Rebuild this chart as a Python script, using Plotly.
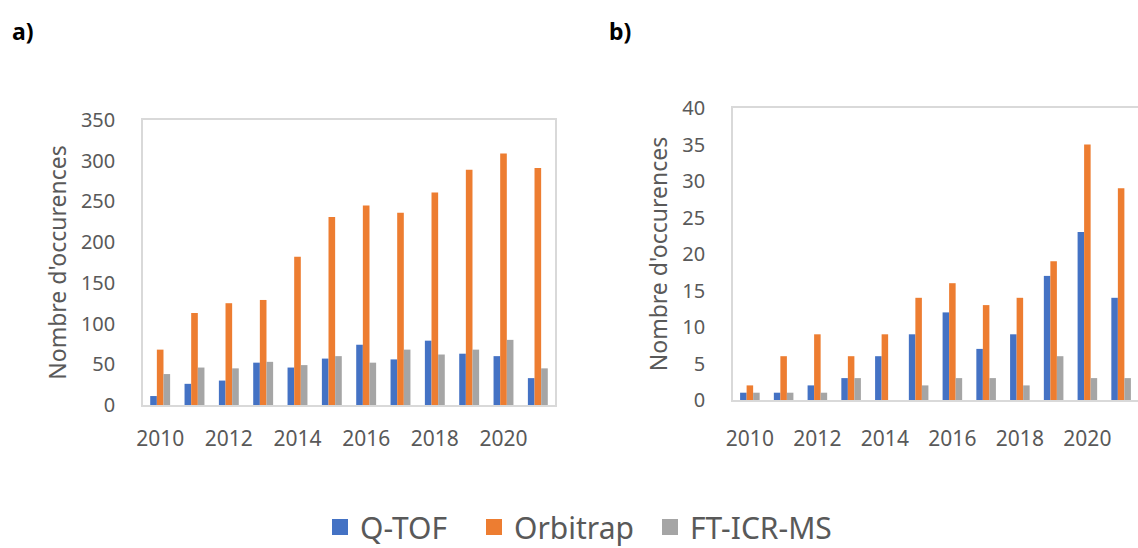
import plotly.graph_objects as go

years = list(range(2010, 2022))

# Panel a
qtof_a = [11, 26, 30, 52, 46, 57, 74, 56, 79, 63, 60, 33]
orbi_a = [68, 113, 125, 129, 182, 231, 245, 236, 261, 289, 309, 291]
ftic_a = [38, 46, 45, 53, 49, 60, 52, 68, 62, 68, 80, 45]

# Panel b
qtof_b = [1, 1, 2, 3, 6, 9, 12, 7, 9, 17, 23, 14]
orbi_b = [2, 6, 9, 6, 9, 14, 16, 13, 14, 19, 35, 29]
ftic_b = [1, 1, 1, 3, 0, 2, 3, 3, 2, 6, 3, 3]

series_names = ["Q-TOF", "Orbitrap", "FT-ICR-MS"]
colors = ["#4472C4", "#ED7D31", "#A5A5A5"]
legend_ids = ["legend", "legend2", "legend3"]
legend_marker_px = [340, 494, 670]

W, H = 1138, 548
fig = go.Figure()

for name, col, ya, yb, lg in zip(series_names, colors, [qtof_a, orbi_a, ftic_a],
                                 [qtof_b, orbi_b, ftic_b], legend_ids):
    fig.add_trace(go.Bar(x=years, y=ya, name=name, marker=dict(color=col, line=dict(width=0)),
                         xaxis="x", yaxis="y", legendgroup=name, showlegend=False))
    fig.add_trace(go.Bar(x=years, y=yb, name=name, marker=dict(color=col, line=dict(width=0)),
                         xaxis="x2", yaxis="y2", legendgroup=name, showlegend=False))
    # legend proxy (no visible data)
    fig.add_trace(go.Scatter(x=[None], y=[None], mode="markers", name=name, legend=lg,
                             marker=dict(symbol="square", size=17, color=col),
                             xaxis="x", yaxis="y", legendgroup=name, showlegend=True))

tickfont_x = dict(family="Noto Sans", size=21, color="#595959")
tickfont_y = dict(family="Noto Sans", size=20, color="#595959")
titlefont = dict(family="Noto Sans", size=23, color="#595959")
line_col = "#D9D9D9"

def xax(domain, standoff):
    return dict(domain=domain, range=[2009.5, 2021.5], tickmode="linear", tick0=2010, dtick=2,
                showgrid=False, zeroline=False, showline=True, mirror=True, linecolor=line_col,
                linewidth=1.5, ticks="", tickfont=tickfont_x, ticklabelstandoff=standoff,
                fixedrange=True, automargin=False)

def yax(domain, rng, dtick, anchor):
    return dict(domain=domain, range=rng, dtick=dtick, showgrid=False, zeroline=False,
                showline=True, mirror=True, linecolor=line_col, linewidth=1.5, ticks="",
                tickfont=tickfont_y, ticklabelstandoff=22, anchor=anchor, fixedrange=True,
                automargin=False,
                title=dict(text="Nombre d'occurences", font=titlefont, standoff=8))

legfont = dict(family="Noto Sans", size=30, color="#595959")
legends = {}
for lg, px in zip(legend_ids, legend_marker_px):
    legends[lg] = dict(orientation="h", x=(px - 20) / W, xanchor="left", y=1 - 527 / H,
                       yanchor="middle", font=legfont, itemwidth=30, bgcolor="rgba(0,0,0,0)",
                       borderwidth=0, tracegroupgap=0)

fig.update_layout(
    width=W, height=H,
    margin=dict(l=0, r=0, t=0, b=0, autoexpand=False),
    paper_bgcolor="white", plot_bgcolor="white",
    barmode="group", bargap=0.42, bargroupgap=0,
    xaxis=dict(xax([143 / W, 555 / W], 14), anchor="y"),
    yaxis=yax([1 - 405 / H, 1 - 120 / H], [0, 350], 50, "x"),
    xaxis2=dict(xax([733 / W, 1.0], 19), anchor="y2"),
    yaxis2=yax([1 - 400 / H, 1 - 108 / H], [0, 40], 5, "x2"),
    showlegend=True,
    annotations=[
        dict(text="<b>a)</b>", x=10 / W, y=1 - 31 / H, xref="paper", yref="paper", xanchor="left",
             yanchor="middle", showarrow=False, font=dict(family="Noto Sans", size=23, color="black")),
        dict(text="<b>b)</b>", x=607 / W, y=1 - 31 / H, xref="paper", yref="paper", xanchor="left",
             yanchor="middle", showarrow=False, font=dict(family="Noto Sans", size=23, color="black")),
    ],
    **legends,
)

fig.write_html("out.html", config={"displayModeBar": False},
               post_script="document.body.style.margin='0';document.body.style.overflow='hidden';")
